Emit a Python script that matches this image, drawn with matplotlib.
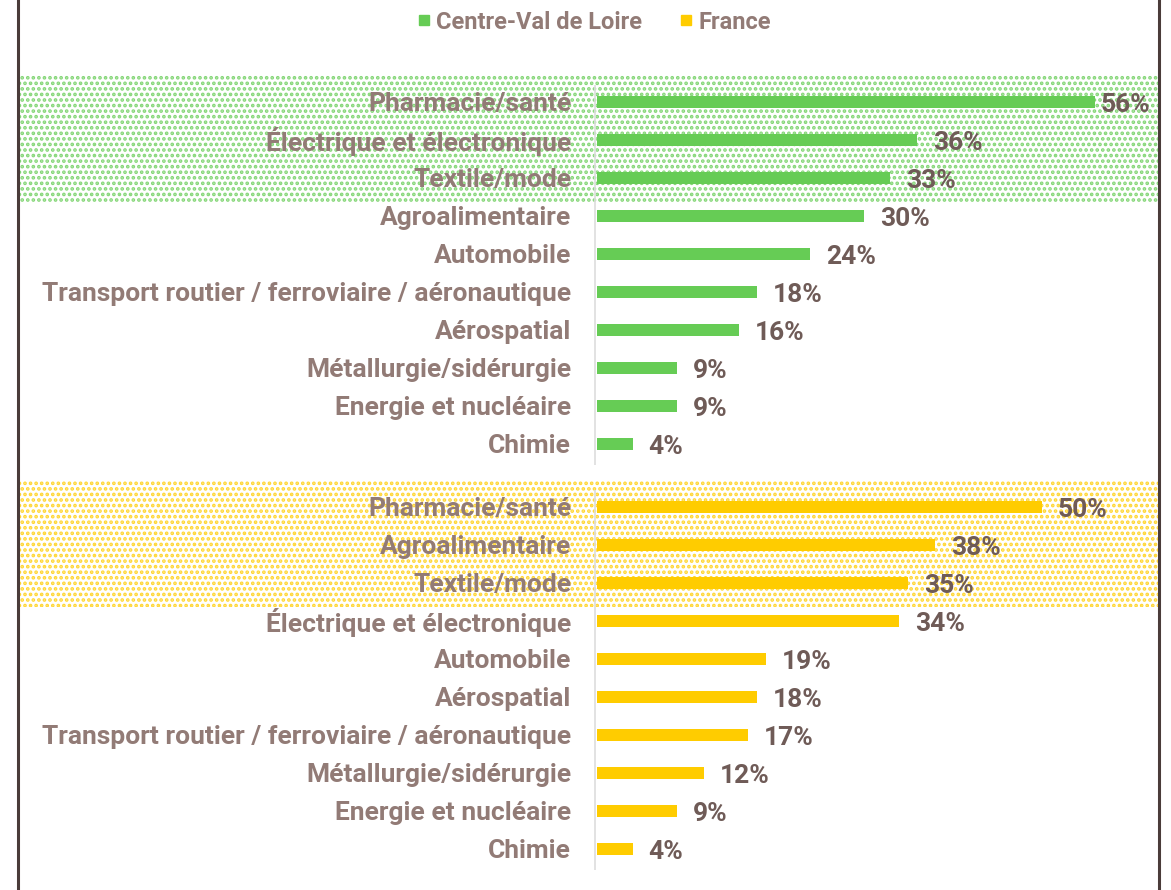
import matplotlib.pyplot as plt
from matplotlib.patches import Rectangle
import matplotlib as mpl

# data
regions = ["Centre-Val de Loire", "France"]
cvl_labels = ["Pharmacie/santé", "Électrique et électronique", "Textile/mode",
              "Agroalimentaire", "Automobile",
              "Transport routier / ferroviaire / aéronautique", "Aérospatial",
              "Métallurgie/sidérurgie", "Energie et nucléaire", "Chimie"]
cvl_values = [56, 36, 33, 30, 24, 18, 16, 9, 9, 4]
fr_labels = ["Pharmacie/santé", "Agroalimentaire", "Textile/mode",
             "Électrique et électronique", "Automobile", "Aérospatial",
             "Transport routier / ferroviaire / aéronautique",
             "Métallurgie/sidérurgie", "Energie et nucléaire", "Chimie"]
fr_values = [50, 38, 35, 34, 19, 18, 17, 12, 9, 4]
n_top = 3  # highlighted top rows in each group

GREEN = "#66cc55"
YELLOW = "#ffcc00"
LABEL = "#927b76"
VALUE = "#6f5b57"
BORDER = "#4a3c3a"

mpl.rcParams["hatch.linewidth"] = 1.8
plt.rcParams["font.family"] = ["Roboto", "DejaVu Sans"]

W, H = 1171, 890
fig = plt.figure(figsize=(W / 100, H / 100), dpi=100)
ax = fig.add_axes([0, 0, 1, 1])

# pixel geometry -> data units
px_per_pct = 8.89
x0_px = 597
row_px = 38
y0_px = 102
ax.set_xlim(-x0_px / px_per_pct, (W - x0_px) / px_per_pct)
ax.set_ylim((H - y0_px) / row_px, -y0_px / row_px)
ax.axis("off")

gap = 63 / row_px - 1
groups = [
    (cvl_labels, cvl_values, GREEN, 0),
    (fr_labels, fr_values, YELLOW, len(cvl_values) + gap),
]

left_edge = (18 - x0_px) / px_per_pct
right_edge = (1159 - x0_px) / px_per_pct

for labels, values, color, start in groups:
    ys = [start + i for i in range(len(values))]
    # dotted highlight band behind the top rows
    ax.add_patch(Rectangle((left_edge, start - 0.72), right_edge - left_edge, n_top + 0.36,
                           facecolor="white", edgecolor=color, hatch="...",
                           linewidth=0, zorder=0, alpha=0.8))
    ax.barh(ys, values, height=0.32, color=color, zorder=2)
    ax.vlines(-0.2, start - 0.45, start + len(values) - 0.45, color="#dddddd",
              linewidth=1.2, zorder=1)
    for y, lab, v in zip(ys, labels, values):
        ax.text(-2.9, y + 0.04, lab, ha="right", va="center", fontsize=19,
                fontweight="bold", color=LABEL, zorder=3)
        tx = v + 0.6 if v > 54 else v + 1.8
        ax.text(tx, y + 0.08, f"{v}%", ha="left", va="center", fontsize=19,
                fontweight="bold", color=VALUE, zorder=3)

# outer frame lines
ax.axvline(left_edge, color=BORDER, linewidth=2.2, zorder=4)
ax.axvline(right_edge, color=BORDER, linewidth=2.2, zorder=4)

# legend
handles = [plt.Line2D([], [], marker="s", linestyle="", color=c, markersize=7)
           for c in (GREEN, YELLOW)]
leg = fig.legend(handles, regions, loc="center", bbox_to_anchor=(0.505, 0.975),
                 ncol=2, frameon=False, handletextpad=0.0, columnspacing=1.4,
                 handlelength=1.0, prop={"size": 17, "weight": "bold"})
for t in leg.get_texts():
    t.set_color(LABEL)

fig.savefig("out.png", dpi=100)
